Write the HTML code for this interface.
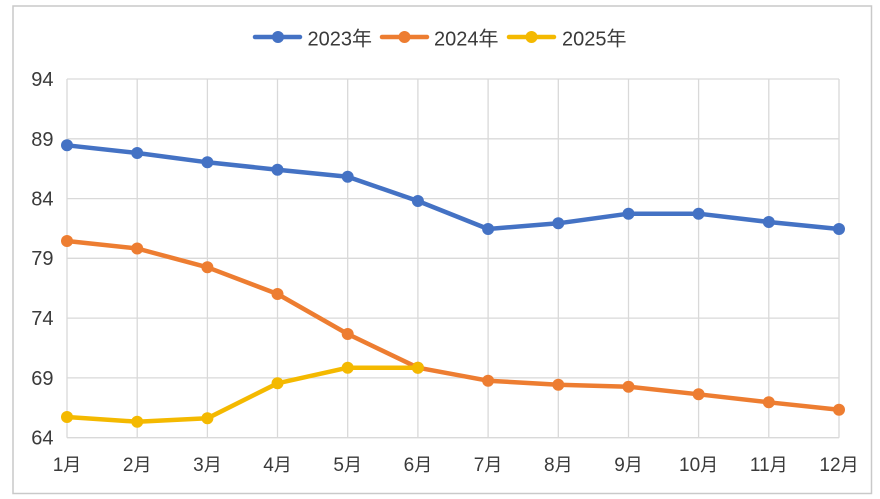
<!DOCTYPE html>
<html><head><meta charset="utf-8"><style>
html,body{margin:0;padding:0;background:#fff;}
svg{display:block;}
text{font-family:"Liberation Sans","Noto Sans CJK SC",sans-serif;fill:#3a3a3a;}
</style></head><body>
<svg width="880" height="499" viewBox="0 0 880 499" xmlns="http://www.w3.org/2000/svg">
<rect x="0" y="0" width="880" height="499" fill="#fff"/>
<rect x="13" y="6" width="858.5" height="487.5" fill="#fff" stroke="#c9c9c9" stroke-width="1.5"/>
<g stroke="#d9d9d9" stroke-width="1.3">
<line x1="67" y1="79" x2="839" y2="79"/>
<line x1="67" y1="138.8" x2="839" y2="138.8"/>
<line x1="67" y1="198.6" x2="839" y2="198.6"/>
<line x1="67" y1="258.3" x2="839" y2="258.3"/>
<line x1="67" y1="318.1" x2="839" y2="318.1"/>
<line x1="67" y1="377.9" x2="839" y2="377.9"/>
<line x1="67" y1="437.7" x2="839" y2="437.7"/>
<line x1="67" y1="79" x2="67" y2="437.7"/>
<line x1="137.2" y1="79" x2="137.2" y2="437.7"/>
<line x1="207.4" y1="79" x2="207.4" y2="437.7"/>
<line x1="277.5" y1="79" x2="277.5" y2="437.7"/>
<line x1="347.7" y1="79" x2="347.7" y2="437.7"/>
<line x1="417.9" y1="79" x2="417.9" y2="437.7"/>
<line x1="488.1" y1="79" x2="488.1" y2="437.7"/>
<line x1="558.3" y1="79" x2="558.3" y2="437.7"/>
<line x1="628.5" y1="79" x2="628.5" y2="437.7"/>
<line x1="698.6" y1="79" x2="698.6" y2="437.7"/>
<line x1="768.8" y1="79" x2="768.8" y2="437.7"/>
<line x1="839" y1="79" x2="839" y2="437.7"/>
</g>
<g font-size="20" text-anchor="end">
<text x="53.5" y="86">94</text>
<text x="53.5" y="146">89</text>
<text x="53.5" y="205.5">84</text>
<text x="53.5" y="265">79</text>
<text x="53.5" y="325">74</text>
<text x="53.5" y="385">69</text>
<text x="53.5" y="444.5">64</text>
</g>
<g font-size="19" text-anchor="middle">
<text x="67" y="471">1<tspan font-size="18">月</tspan></text>
<text x="137.2" y="471">2<tspan font-size="18">月</tspan></text>
<text x="207.4" y="471">3<tspan font-size="18">月</tspan></text>
<text x="277.5" y="471">4<tspan font-size="18">月</tspan></text>
<text x="347.7" y="471">5<tspan font-size="18">月</tspan></text>
<text x="417.9" y="471">6<tspan font-size="18">月</tspan></text>
<text x="488.1" y="471">7<tspan font-size="18">月</tspan></text>
<text x="558.3" y="471">8<tspan font-size="18">月</tspan></text>
<text x="628.5" y="471">9<tspan font-size="18">月</tspan></text>
<text x="698.6" y="471">10<tspan font-size="18">月</tspan></text>
<text x="768.8" y="471">11<tspan font-size="18">月</tspan></text>
<text x="839" y="471">12<tspan font-size="18">月</tspan></text>
</g>
<!-- 2023 -->
<g fill="#4472C4">
<polyline fill="none" stroke="#4472C4" stroke-width="4.5" stroke-linejoin="round" points="67,145.3 137.2,153 207.4,162.3 277.5,169.7 347.7,176.7 417.9,201 488.1,229 558.3,223.3 628.5,213.7 698.6,213.7 768.8,222 839,229"/>
<circle cx="67" cy="145.3" r="6"/><circle cx="137.2" cy="153" r="6"/><circle cx="207.4" cy="162.3" r="6"/><circle cx="277.5" cy="169.7" r="6"/><circle cx="347.7" cy="176.7" r="6"/><circle cx="417.9" cy="201" r="6"/><circle cx="488.1" cy="229" r="6"/><circle cx="558.3" cy="223.3" r="6"/><circle cx="628.5" cy="213.7" r="6"/><circle cx="698.6" cy="213.7" r="6"/><circle cx="768.8" cy="222" r="6"/><circle cx="839" cy="229" r="6"/>
</g>
<!-- 2024 -->
<g fill="#ED7D31">
<polyline fill="none" stroke="#ED7D31" stroke-width="4.5" stroke-linejoin="round" points="67,241 137.2,248.5 207.4,267.3 277.5,294 347.7,334 417.9,367.7 488.1,380.7 558.3,384.7 628.5,386.7 698.6,394.3 768.8,402.3 839,409.7"/>
<circle cx="67" cy="241" r="6"/><circle cx="137.2" cy="248.5" r="6"/><circle cx="207.4" cy="267.3" r="6"/><circle cx="277.5" cy="294" r="6"/><circle cx="347.7" cy="334" r="6"/><circle cx="417.9" cy="367.7" r="6"/><circle cx="488.1" cy="380.7" r="6"/><circle cx="558.3" cy="384.7" r="6"/><circle cx="628.5" cy="386.7" r="6"/><circle cx="698.6" cy="394.3" r="6"/><circle cx="768.8" cy="402.3" r="6"/><circle cx="839" cy="409.7" r="6"/>
</g>
<!-- 2025 -->
<g fill="#F4B900">
<polyline fill="none" stroke="#F4B900" stroke-width="4.5" stroke-linejoin="round" points="67,417 137.2,421.7 207.4,418.3 277.5,383.3 347.7,367.7 417.9,367.7"/>
<circle cx="67" cy="417" r="6"/><circle cx="137.2" cy="421.7" r="6"/><circle cx="207.4" cy="418.3" r="6"/><circle cx="277.5" cy="383.3" r="6"/><circle cx="347.7" cy="367.7" r="6"/><circle cx="417.9" cy="367.7" r="6"/>
</g>
<!-- legend -->
<line x1="255" y1="37" x2="300" y2="37" stroke="#4472C4" stroke-width="4.5" stroke-linecap="round"/>
<circle cx="278" cy="37" r="6" fill="#4472C4"/>
<text x="307.5" y="45.5" font-size="20">2023<tspan font-size="20">年</tspan></text>
<line x1="382" y1="37" x2="427" y2="37" stroke="#ED7D31" stroke-width="4.5" stroke-linecap="round"/>
<circle cx="404.5" cy="37" r="6" fill="#ED7D31"/>
<text x="434" y="45.5" font-size="20">2024<tspan font-size="20">年</tspan></text>
<line x1="509" y1="37" x2="554" y2="37" stroke="#F4B900" stroke-width="4.5" stroke-linecap="round"/>
<circle cx="531.5" cy="37" r="6" fill="#F4B900"/>
<text x="562" y="45.5" font-size="20">2025<tspan font-size="20">年</tspan></text>
</svg>
</body></html>
